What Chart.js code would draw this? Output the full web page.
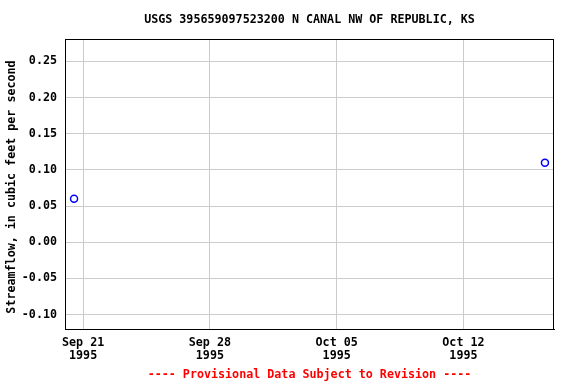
<!DOCTYPE html>
<html>
<head>
<meta charset="utf-8">
<script src="https://cdn.jsdelivr.net/npm/chart.js@4/dist/chart.umd.min.js"></script>
<style>
  html, body { margin: 0; padding: 0; background: #fff; }
  canvas { display: block; }
</style>
</head>
<body>
<canvas id="flowChart" width="576" height="384"></canvas>
<script>
// Observations (daily mean, plotted at noon)
const obsDates = ["1995-09-20T12:00:00Z", "1995-10-16T12:00:00Z"];
const flowValues = [0.06, 0.11];

// Axis ticks
const xTickDates = ["1995-09-21", "1995-09-28", "1995-10-05", "1995-10-12"];
const xTickLabels = [["Sep 21", "1995"], ["Sep 28", "1995"], ["Oct 05", "1995"], ["Oct 12", "1995"]];
const yTicks = [-0.10, -0.05, 0.00, 0.05, 0.10, 0.15, 0.20, 0.25];

const titleText = "USGS 395659097523200 N CANAL NW OF REPUBLIC, KS";
const yTitleText = "Streamflow, in cubic feet per second";
const footerText = "---- Provisional Data Subject to Revision ----";

// days since Sep 21 1995
const baseTime = Date.parse("1995-09-21T00:00:00Z");
const toDays = s => (Date.parse(s.length > 10 ? s : s + "T00:00:00Z") - baseTime) / 86400000;

const points = obsDates.map((d, i) => ({ x: toDays(d), y: flowValues[i] }));
const xTickValues = xTickDates.map(toDays);

const FONT = "'DejaVu Sans Mono', 'Liberation Mono', monospace";

// title, axis title, footer and frame around the plot
const framePlugin = {
    id: "frame",
    afterDraw(chart) {
        const { ctx, chartArea } = chart;
        const mid = (chartArea.left + chartArea.right) / 2;
        ctx.save();
        ctx.strokeStyle = "#000";
        ctx.lineWidth = 1;
        ctx.strokeRect(chartArea.left + 0.5, chartArea.top + 0.5,
            chartArea.right - chartArea.left - 1, chartArea.bottom - chartArea.top);
        ctx.font = "bold 11.7px " + FONT;
        ctx.textAlign = "center";
        ctx.textBaseline = "middle";
        ctx.fillStyle = "#000";
        ctx.fillText(titleText, mid, 20);

        ctx.save();
        ctx.translate(12, 187);
        ctx.rotate(-Math.PI / 2);
        ctx.fillText(yTitleText, 0, 0);
        ctx.restore();

        ctx.fillStyle = "#ff0000";
        ctx.fillText(footerText, mid, 375);
        ctx.restore();
    }
};

new Chart(document.getElementById("flowChart"), {
    type: "scatter",
    data: {
        datasets: [{
            data: points,
            borderColor: "#0000ff",
            backgroundColor: "rgba(0,0,0,0)",
            pointRadius: 3.5,
            pointBorderWidth: 1.5,
            showLine: false
        }]
    },
    options: {
        responsive: false,
        devicePixelRatio: 1,
        animation: false,
        layout: { padding: { top: 39, bottom: 20, right: 22, left: 0 } },
        plugins: {
            legend: { display: false },
            tooltip: { enabled: false }
        },
        scales: {
            x: {
                type: "linear",
                min: -1,
                max: 26,
                afterBuildTicks: axis => { axis.ticks = xTickValues.map(v => ({ value: v })); },
                afterFit: axis => { axis.height = 35; },
                grid: { color: "#cccccc", drawTicks: false },
                border: { color: "#000", width: 1 },
                ticks: {
                    padding: 8,
                    maxRotation: 0,
                    color: "#000",
                    font: { family: FONT, size: 11.7, weight: "bold", lineHeight: 1.1 },
                    callback: (v, i) => xTickLabels[i]
                }
            },
            y: {
                min: -0.12,
                max: 0.281,
                afterBuildTicks: axis => { axis.ticks = yTicks.map(v => ({ value: v })); },
                afterFit: axis => { axis.width = 65; },
                grid: { color: "#cccccc", drawTicks: false },
                border: { color: "#000", width: 1 },
                ticks: {
                    padding: 8,
                    color: "#000",
                    font: { family: FONT, size: 11.7, weight: "bold" },
                    callback: v => v.toFixed(2)
                }
            }
        }
    },
    plugins: [framePlugin]
});
</script>
</body>
</html>
